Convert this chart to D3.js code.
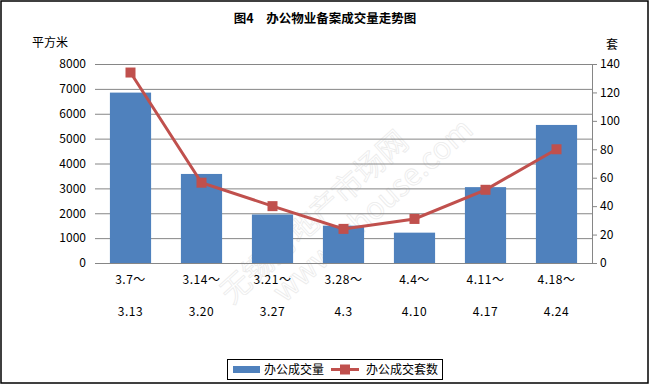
<!DOCTYPE html>
<html>
<head>
<meta charset="utf-8">
<script src="https://cdn.jsdelivr.net/npm/d3@7"></script>
<style>
body { margin: 0; background: #fff; }
text { font-family: "Noto Sans CJK SC", "DejaVu Sans", sans-serif; }
</style>
</head>
<body>
<script>
// weekly periods, two rows of labels
var periodsTop = ["3.7～", "3.14～", "3.21～", "3.28～", "4.4～", "4.11～", "4.18～"];
var periodsBottom = ["3.13", "3.20", "3.27", "4.3", "4.10", "4.17", "4.24"];
var areaValues = [6850, 3580, 1950, 1500, 1220, 3050, 5550]; // 办公成交量, 平方米
var unitValues = [134, 56.5, 40, 24, 31, 51.5, 80]; // 办公成交套数, 套
var leftTicks = [0, 1000, 2000, 3000, 4000, 5000, 6000, 7000, 8000];
var rightTicks = [0, 20, 40, 60, 80, 100, 120, 140];

var w = 651, h = 387;
var plotL = 95, plotR = 592, plotT = 64, plotB = 263;

var svg = d3.select("body").append("svg").attr("width", w).attr("height", h);

// outer frame
svg.append("rect").attr("x", 1).attr("y", 1).attr("width", w - 4).attr("height", h - 5)
  .attr("fill", "#fff").attr("stroke", "#000").attr("stroke-width", 1.5);

var x = d3.scaleBand().domain(periodsTop).range([plotL, plotR]).paddingInner(0.42).paddingOuter(0.21);
var yL = d3.scaleLinear().domain([0, 8000]).range([plotB, plotT]);
var yR = d3.scaleLinear().domain([0, 140]).range([plotB, plotT]);

// faint watermark (behind the marks)
var wm = svg.append("g").attr("transform", "translate(232,305) rotate(-42)")
  .attr("fill", "none").attr("stroke", "#ebebeb").attr("stroke-width", 0.8);
wm.append("text").attr("x", 0).attr("y", 0).attr("font-size", 30).text("无锡房地产市场网");
wm.append("text").attr("x", 40).attr("y", 34).attr("font-size", 30)
  .attr("font-family", "DejaVu Sans").text("www.whouse.com");

// gridlines
svg.append("g").selectAll("line").data(leftTicks.slice(1)).enter().append("line")
  .attr("x1", plotL).attr("x2", plotR)
  .attr("y1", function (d) { return yL(d) + 0.5; }).attr("y2", function (d) { return yL(d) + 0.5; })
  .attr("stroke", "#868686").attr("stroke-width", 1);

// left axis labels only
var gl = svg.append("g").attr("transform", "translate(" + plotL + ",0)")
  .call(d3.axisLeft(yL).tickValues(leftTicks).tickFormat(d3.format("d")).tickSize(0).tickPadding(9));
gl.select(".domain").remove();
gl.selectAll("text").attr("font-size", 12).attr("fill", "#000").attr("font-family", "DejaVu Sans");

// right axis
var gr = svg.append("g").attr("transform", "translate(" + plotR + ",0)")
  .call(d3.axisRight(yR).tickValues(rightTicks).tickSizeOuter(0).tickSize(5).tickPadding(3));
gr.select(".domain").attr("stroke", "#868686");
gr.selectAll("line").attr("stroke", "#868686");
gr.selectAll("text").attr("font-size", 12).attr("fill", "#000").attr("font-family", "DejaVu Sans");

// bars
svg.append("g").selectAll("rect").data(areaValues).enter().append("rect")
  .attr("x", function (d, i) { return x(periodsTop[i]); })
  .attr("y", function (d) { return yL(d); })
  .attr("width", x.bandwidth())
  .attr("height", function (d) { return plotB - yL(d); })
  .attr("fill", "#4F81BD");

// x axis line
svg.append("line").attr("x1", plotL).attr("x2", plotR + 1).attr("y1", plotB + 0.5).attr("y2", plotB + 0.5)
  .attr("stroke", "#868686");

// category labels
svg.append("g").selectAll("text").data(periodsTop).enter().append("text")
  .attr("x", function (d) { return x(d) + x.bandwidth() / 2; })
  .attr("y", 284).attr("text-anchor", "middle").attr("font-size", 12)
  .attr("font-family", "DejaVu Sans").attr("letter-spacing", 0.5)
  .text(function (d) { return d; });
svg.append("g").selectAll("text").data(periodsBottom).enter().append("text")
  .attr("x", function (d, i) { return x(periodsTop[i]) + x.bandwidth() / 2; })
  .attr("y", 316).attr("text-anchor", "middle").attr("font-size", 12)
  .attr("font-family", "DejaVu Sans").attr("letter-spacing", 0.5)
  .text(function (d) { return d; });

// line series
var line = d3.line()
  .x(function (d, i) { return x(periodsTop[i]) + x.bandwidth() / 2; })
  .y(function (d) { return yR(d); });
svg.append("path").datum(unitValues).attr("d", line)
  .attr("fill", "none").attr("stroke", "#C0504D").attr("stroke-width", 3);
svg.append("g").selectAll("rect").data(unitValues).enter().append("rect")
  .attr("x", function (d, i) { return x(periodsTop[i]) + x.bandwidth() / 2 - 5; })
  .attr("y", function (d) { return yR(d) - 5; })
  .attr("width", 10).attr("height", 10)
  .attr("fill", "#C0504D");

// titles
svg.append("text").attr("x", 325).attr("y", 23).attr("text-anchor", "middle")
  .attr("font-size", 12.5).attr("font-weight", "bold").text("图4　办公物业备案成交量走势图");
svg.append("text").attr("x", 32).attr("y", 47).attr("font-size", 12).text("平方米");
svg.append("text").attr("x", 606).attr("y", 49).attr("font-size", 12).text("套");

// legend
var lg = svg.append("g");
lg.append("rect").attr("x", 227.5).attr("y", 359.5).attr("width", 215).attr("height", 20)
  .attr("fill", "#fff").attr("stroke", "#000");
lg.append("rect").attr("x", 233).attr("y", 366).attr("width", 27).attr("height", 7).attr("fill", "#4F81BD");
lg.append("text").attr("x", 264).attr("y", 374).attr("font-size", 12).text("办公成交量");
lg.append("line").attr("x1", 331).attr("x2", 359).attr("y1", 369.5).attr("y2", 369.5)
  .attr("stroke", "#C0504D").attr("stroke-width", 3);
lg.append("rect").attr("x", 340).attr("y", 364.5).attr("width", 10).attr("height", 10).attr("fill", "#C0504D");
lg.append("text").attr("x", 366).attr("y", 374).attr("font-size", 12).text("办公成交套数");
</script>
</body>
</html>
